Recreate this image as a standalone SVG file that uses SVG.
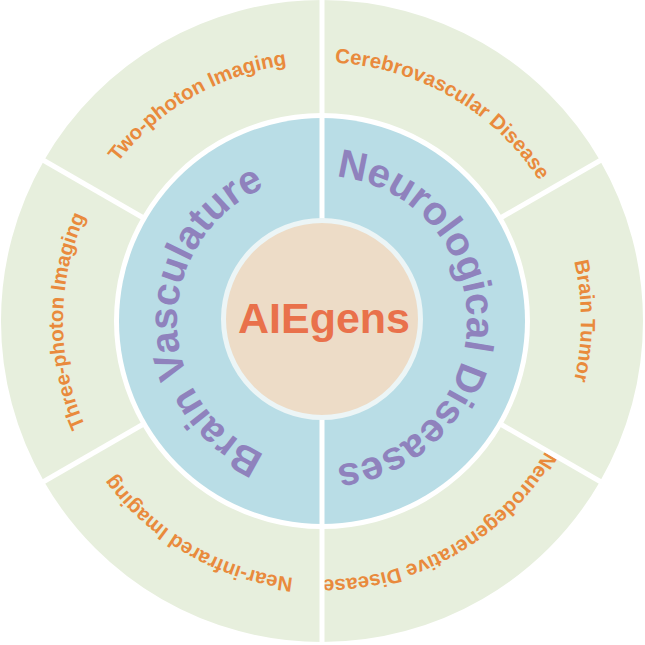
<svg xmlns="http://www.w3.org/2000/svg" width="645" height="645" viewBox="0 0 645 645">
<style>
.outer{fill:#e7efdd}
.inner{fill:#b9dde6}
.olab{font-family:"Liberation Sans",Arial,sans-serif;font-weight:bold;font-size:20.5px;fill:#e98a3c}
.ilab{font-family:"Liberation Sans",Arial,sans-serif;font-weight:bold;font-size:40px;fill:#8f82bd}
.div{stroke:#ffffff;stroke-width:5;fill:none}
</style>
<defs>
<path id="p120" d="M97.7,450.5 A259,259 0 0 1 546.3,191.5"/>
<path id="p60" d="M97.7,191.5 A259,259 0 0 1 546.3,450.5"/>
<path id="p0" d="M322,62 A259,259 0 0 1 322,580"/>
<path id="pm60" d="M546.3,191.5 A259,259 0 0 1 97.7,450.5"/>
<path id="pm120" d="M546.3,450.5 A259,259 0 0 1 97.7,191.5"/>
<path id="p180" d="M322,580 A259,259 0 0 1 322,62"/>
<path id="iL" d="M322,466 A145,145 0 0 1 322,176"/>
<path id="iR" d="M322,176 A145,145 0 0 1 322,466"/>
</defs>
<rect width="645" height="645" fill="#ffffff"/>

<g id="cerebrovascular-disease">
<path class="outer" d="M322,0 A321,321 0 0 1 600,160.5 L502.13,217 A208,208 0 0 0 322,113 Z"/>
<text class="olab"><textPath href="#p60" startOffset="50%" text-anchor="middle">Cerebrovascular Disease</textPath></text>
</g>
<g id="brain-tumor">
<path class="outer" d="M600,160.5 A321,321 0 0 1 600,481.5 L502.13,425 A208,208 0 0 0 502.13,217 Z"/>
<text class="olab"><textPath href="#p0" startOffset="50%" text-anchor="middle">Brain Tumor</textPath></text>
</g>
<g id="neurodegenerative-disease">
<path class="outer" d="M600,481.5 A321,321 0 0 1 322,642 L322,529 A208,208 0 0 0 502.13,425 Z"/>
<text class="olab"><textPath href="#pm60" startOffset="50%" text-anchor="middle">Neurodegenerative Disease</textPath></text>
</g>
<g id="near-infrared-imaging">
<path class="outer" d="M322,642 A321,321 0 0 1 44,481.5 L141.87,425 A208,208 0 0 0 322,529 Z"/>
<text class="olab"><textPath href="#pm120" startOffset="50%" text-anchor="middle">Near-infrared Imaging</textPath></text>
</g>
<g id="three-photon-imaging">
<path class="outer" d="M44,481.5 A321,321 0 0 1 44,160.5 L141.87,217 A208,208 0 0 0 141.87,425 Z"/>
<text class="olab"><textPath href="#p180" startOffset="50%" text-anchor="middle">Three-photon Imaging</textPath></text>
</g>
<g id="two-photon-imaging">
<path class="outer" d="M44,160.5 A321,321 0 0 1 322,0 L322,113 A208,208 0 0 0 141.87,217 Z"/>
<text class="olab"><textPath href="#p120" startOffset="50%" text-anchor="middle">Two-photon Imaging</textPath></text>
</g>

<g id="neurological-diseases">
<path class="inner" d="M322,118 A203,203 0 0 1 322,524 Z"/>
<text class="ilab"><textPath href="#iR" startOffset="50%" text-anchor="middle">Neurological Diseases</textPath></text>
</g>
<g id="brain-vasculature">
<path class="inner" d="M322,524 A203,203 0 0 1 322,118 Z"/>
<text class="ilab"><textPath href="#iL" startOffset="50%" text-anchor="middle">Brain Vasculature</textPath></text>
</g>

<g id="connectors">
<line class="div" x1="322" y1="0" x2="322" y2="645"/>
<line class="div" x1="500.4" y1="218" x2="608" y2="156"/>
<line class="div" x1="500.4" y1="424" x2="608" y2="486"/>
<line class="div" x1="143.6" y1="424" x2="36" y2="486"/>
<line class="div" x1="143.6" y1="218" x2="36" y2="156"/>
</g>

<g id="aiegens">
<circle cx="322" cy="319" r="98.5" fill="#eddcc7" stroke="#ecf5f6" stroke-width="5"/>
<text x="324" y="333" text-anchor="middle" font-family="'Liberation Sans',Arial,sans-serif" font-weight="bold" font-size="43" fill="#e9714b">AIEgens</text>
</g>
</svg>
